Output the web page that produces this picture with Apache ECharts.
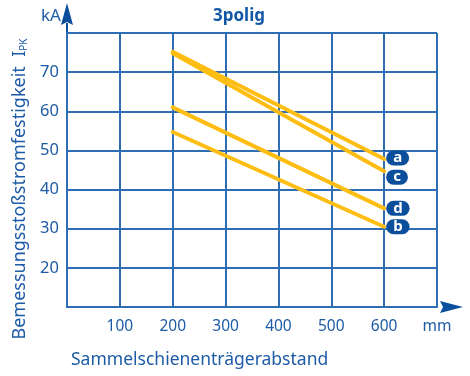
<!DOCTYPE html>
<html>
<head>
<meta charset="utf-8">
<script src="https://cdn.jsdelivr.net/npm/echarts@6/dist/echarts.min.js"></script>
<style>
  html, body { margin: 0; padding: 0; background: #fff; }
  #chart { width: 470px; height: 376px; }
</style>
</head>
<body>
<div id="chart"></div>
<script>
// Busbar support spacing (mm) at the start and end of each curve
const spacing = [200, 600];
// Rated peak withstand current (kA) for each curve
const curveA = [75.2, 47.8];
const curveB = [54.7, 30.5];
const curveC = [74.8, 44.7];
const curveD = [61.0, 35.2];
const curveNames = ['a', 'b', 'c', 'd'];
const yTicks = [20, 30, 40, 50, 60, 70];
const xTicks = [100, 200, 300, 400, 500, 600];

const BLUE = '#2f6db5';
const TEXT = '#1d5ba6';
const DARK = '#0b4e9b';
const GOLD = '#fdbd12';
const FONT = '"Noto Sans", sans-serif';

const chart = echarts.init(document.getElementById('chart'), null, { renderer: 'canvas' });

function curve(name, values, labelOffset) {
  return {
    name: name,
    type: 'line',
    data: spacing.map((x, i) => [x, values[i]]),
    symbol: 'none',
    lineStyle: { color: GOLD, width: 4, cap: 'round' },
    z: 3,
    endLabel: {
      show: true,
      formatter: name,
      distance: 2,
      offset: labelOffset,
      color: '#fff',
      fontFamily: FONT,
      fontWeight: 'bold',
      fontSize: 15,
      lineHeight: 15,
      backgroundColor: DARK,
      borderRadius: 7.5,
      padding: [0, 7]
    }
  };
}

const option = {
  animation: false,
  title: [
    {
      text: '3polig', left: 234, top: 3, textAlign: 'center',
      textStyle: { color: '#1358a6', fontFamily: FONT, fontWeight: 'bold', fontSize: 17 }
    },
    {
      text: 'kA', left: 36, top: 3,
      textStyle: { color: TEXT, fontFamily: FONT, fontWeight: 'normal', fontSize: 17 }
    },
    {
      text: 'Sammelschienenträgerabstand', left: 66, top: 346,
      textStyle: { color: TEXT, fontFamily: FONT, fontWeight: 'normal', fontSize: 17.5 }
    }
  ],
  grid: { left: 67, right: 33, top: 33, bottom: 69, containLabel: false },
  xAxis: {
    type: 'value', min: 0, max: 700, interval: 100,
    axisLine: { show: true, lineStyle: { color: BLUE, width: 2 } },
    axisTick: { show: false },
    splitLine: { show: true, lineStyle: { color: BLUE, width: 2 } },
    axisLabel: {
      color: TEXT, fontFamily: FONT, fontSize: 15.5, margin: 12,
      formatter: v => (v === 700 ? 'mm' : (xTicks.includes(v) ? String(v) : ''))
    }
  },
  yAxis: {
    type: 'value', min: 10, max: 80, interval: 10,
    name: '{m|Bemessungsstoßstromfestigkeit  I}{s|PK}',
    nameLocation: 'middle', nameRotate: 90, nameGap: 38,
    nameTextStyle: {
      padding: [0, 38, 0, 0],
      rich: {
        m: { color: TEXT, fontFamily: FONT, fontSize: 18 },
        s: { color: TEXT, fontFamily: FONT, fontSize: 10, verticalAlign: 'bottom', padding: [7, 0, 0, 0] }
      }
    },
    axisLine: { show: true, lineStyle: { color: BLUE, width: 2 } },
    axisTick: { show: false },
    splitLine: { show: true, lineStyle: { color: BLUE, width: 2 } },
    axisLabel: {
      color: TEXT, fontFamily: FONT, fontSize: 16.5, margin: 8,
      formatter: v => (yTicks.includes(v) ? String(v) : '')
    }
  },
  series: [
    curve(curveNames[0], curveA, [0, -1]),
    curve(curveNames[2], curveC, [0, 6]),
    curve(curveNames[3], curveD, [0, 0]),
    curve(curveNames[1], curveB, [0, 0])
  ]
};

chart.setOption(option);

// Axis arrows drawn from the plot corners
const topLeft = chart.convertToPixel({ gridIndex: 0 }, [0, 80]);
const bottomRight = chart.convertToPixel({ gridIndex: 0 }, [700, 10]);
const ax = topLeft[0], ay = topLeft[1];
const bx = bottomRight[0], by = bottomRight[1];
chart.setOption({
  graphic: [
    { type: 'line', shape: { x1: ax, y1: ay, x2: ax, y2: ay - 10 }, style: { stroke: DARK, lineWidth: 2 } },
    { type: 'polygon', shape: { points: [[ax, ay - 30], [ax - 6, ay - 8], [ax, ay - 11], [ax + 6, ay - 8]] }, style: { fill: DARK } },
    { type: 'polygon', shape: { points: [[bx + 26, by], [bx + 3, by - 6], [bx + 6, by], [bx + 3, by + 6]] }, style: { fill: DARK } }
  ]
});
</script>
</body>
</html>
